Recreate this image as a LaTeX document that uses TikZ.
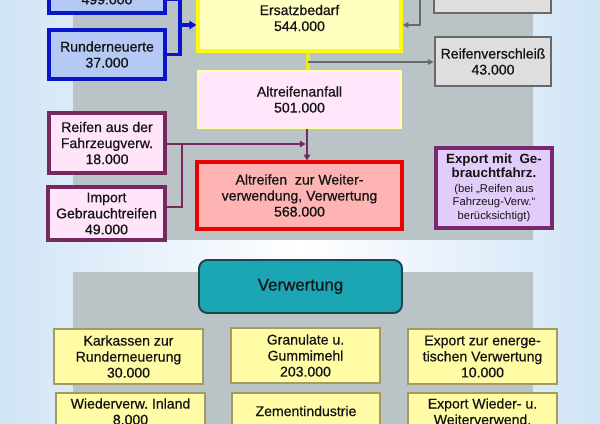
\documentclass[tikz,border=0pt]{standalone}
\usepackage{fontspec}
\setmainfont{Liberation Sans}
\newfontfamily\medfont[FakeBold=0.6]{Liberation Sans}
\usetikzlibrary{arrows.meta}
\definecolor{bgb}{RGB}{208,228,246}
\definecolor{panel}{RGB}{186,196,199}
\definecolor{txt}{RGB}{20,20,20}
\definecolor{bfill}{RGB}{180,202,245}
\definecolor{bdraw}{RGB}{10,20,200}
\definecolor{efill}{RGB}{255,255,192}
\definecolor{edraw}{RGB}{250,250,20}
\definecolor{afill}{RGB}{255,230,250}
\definecolor{adraw}{RGB}{255,255,160}
\definecolor{gfill}{RGB}{222,222,222}
\definecolor{gdraw}{RGB}{105,105,105}
\definecolor{pfill}{RGB}{255,228,250}
\definecolor{pdraw}{RGB}{120,40,95}
\definecolor{rfill}{RGB}{255,180,180}
\definecolor{rdraw}{RGB}{235,0,0}
\definecolor{lfill}{RGB}{226,205,250}
\definecolor{ldraw}{RGB}{120,40,110}
\definecolor{tfill}{RGB}{28,166,180}
\definecolor{tdraw}{RGB}{30,70,80}
\definecolor{yfill}{RGB}{255,252,165}
\definecolor{ydraw}{RGB}{165,155,95}
\definecolor{yline}{RGB}{235,235,30}
\newcommand{\mybox}[7]{%
  \node[#2, minimum width={(#5-#3)*0.025cm}, minimum height={(#6-#4)*0.025cm}] (#1) at ({(#3+#5)/2},{(#4+#6)/2}) {#7};}
\tikzset{
  box/.style={draw, align=center, inner sep=0pt, text=txt, font=\medfont\fontsize{10}{11.4}\selectfont},
  bluebox/.style={box, fill=bfill, draw=bdraw, line width=2.2pt},
  ersbox/.style={box, fill=efill, draw=edraw, line width=2.4pt},
  altbox/.style={box, fill=afill, draw=adraw, line width=1.8pt},
  graybox/.style={box, fill=gfill, draw=gdraw, line width=2pt},
  pinkbox/.style={box, fill=pfill, draw=pdraw, line width=2.2pt},
  redbox/.style={box, fill=rfill, draw=rdraw, line width=2.4pt},
  lavbox/.style={box, fill=lfill, draw=ldraw, line width=2.2pt, font=\fontsize{8}{9.6}\selectfont},
  tealbox/.style={box, fill=tfill, draw=tdraw, line width=1.4pt, rounded corners=6pt, font=\medfont\fontsize{12}{14}\selectfont},
  ybox/.style={box, fill=yfill, draw=ydraw, line width=0.8pt},
  bl/.style={draw=bdraw, line width=2.2pt},
  gl/.style={draw=gdraw, line width=1.5pt},
  pl/.style={draw=pdraw, line width=2pt},
  yl/.style={draw=yline, line width=2.2pt},
  btip/.style={-{Triangle[length=5pt,width=6pt]}},
  gtip/.style={-{Triangle[length=4pt,width=4pt]}},
  ptip/.style={-{Triangle[length=4pt,width=4.5pt]}}
}
\begin{document}
\begin{tikzpicture}[x=0.025cm,y=-0.025cm]
\useasboundingbox (0,0) rectangle (600,423);
\clip (0,0) rectangle (600,423);
\shade[left color=bgb, right color=bgb, middle color=white] (0,0) rectangle (600,423);
\fill[panel] (73,-5) rectangle (533,240);
\fill[panel] (73,272) rectangle (533,430);

% upper part
\mybox{neu}{bluebox}{49}{-14}{165}{13}{499.000}
\mybox{run}{bluebox}{49}{30}{165}{79}{Runderneuerte\\37.000}
\mybox{ers}{ersbox}{198}{-15}{401}{51}{Ersatzbedarf\\544.000}
\mybox{tr}{graybox}{434}{-20}{551}{13}{}
\mybox{rv}{graybox}{435}{37}{551}{86}{Reifenverschleiß\\43.000}
\mybox{alt}{altbox}{198}{71}{401}{128}{Altreifenanfall\\501.000}
\mybox{fz}{pinkbox}{49}{113}{165}{173}{Reifen aus der\\Fahrzeugverw.\\18.000}
\mybox{imp}{pinkbox}{48}{187}{165}{240}{Import\\Gebrauchtreifen\\49.000}
\mybox{wz}{redbox}{197}{162}{402}{229}{Altreifen\ \ zur Weiter-\\verwendung, Verwertung\\568.000}
\mybox{exg}{lavbox}{436}{148}{552}{228}{\fontsize{9.5}{11}\selectfont\bfseries Export mit\ \ Ge-\\\fontsize{9.5}{11}\selectfont\bfseries brauchtfahrz.\\[1pt](bei „Reifen aus\\Fahrzeug-Verw.“\\berücksichtigt)}

% connectors upper
\coordinate (bj) at (180,25);
\draw[bl] (neu.east) -| (bj) |- (run.east);
\draw[bl,btip] (bj) -- (bj -| ers.west);
\coordinate (gj) at (420,25);
\draw[gl,gtip] (tr.west) -| (gj) -- (gj -| ers.east);
\coordinate (yj) at (308,62);
\draw[yl] (ers.south -| yj) -- (alt.north -| yj);
\draw[gl,gtip] (yj) -- (yj -| rv.west);
\coordinate (pv) at (307,144);
\draw[pl,ptip] (alt.south -| pv) -- (wz.north -| pv);
\draw[pl,ptip] (fz.east |- pv) -- ([xshift=-1pt]pv);
\coordinate (pj) at (182,207);
\draw[pl] (imp.east |- pj) -| (pj |- pv);

% lower part
\mybox{verw}{tealbox}{199}{260}{402}{313}{Verwertung}
\mybox{kar}{ybox}{54}{329}{203}{384}{Karkassen zur\\Runderneuerung\\30.000}
\mybox{gran}{ybox}{231}{328}{380}{383}{Granulate u.\\Gummimehl\\203.000}
\mybox{eev}{ybox}{408}{329}{557}{384}{Export zur energe-\\tischen Verwertung\\10.000}
\mybox{wvi}{ybox}{56}{393}{205}{430}{Wiederverw.\ Inland\\8.000}
\mybox{zem}{ybox}{232}{393}{380}{429}{Zementindustrie}
\mybox{eww}{ybox}{408}{393}{557}{430}{Export Wieder-\ u.\\Weiterverwend.}
\end{tikzpicture}
\end{document}
